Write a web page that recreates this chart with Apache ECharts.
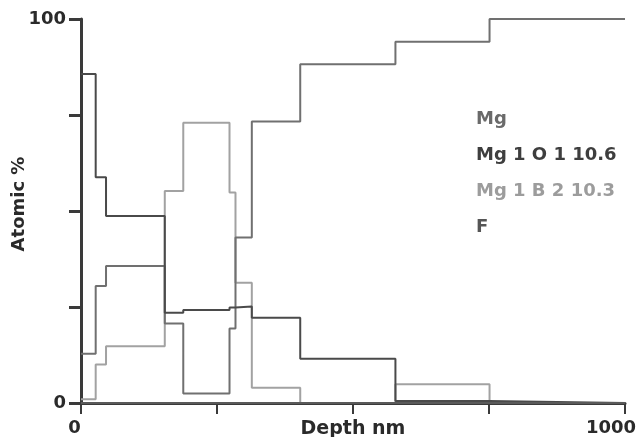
<!DOCTYPE html>
<html><head><meta charset="utf-8">
<script src="https://cdn.jsdelivr.net/npm/echarts@6/dist/echarts.min.js"></script>
<style>html,body{margin:0;padding:0;background:#fff}#c{width:638px;height:437px}</style>
</head><body><div id="c"></div>
<script>
// Depth boundaries (nm): each value holds from its boundary to the next one
const depthEdges = [0, 27, 46, 154, 188, 273, 284, 314, 403, 578, 751, 1000];
const seriesNames = ['Mg', 'Mg 1 O 1 10.6', 'Mg 1 B 2 10.3', 'F'];
const mgValues    = [12.8, 30.5, 35.7, 20.7, 2.5, 19.4, 43.1, 73.3, 88.2, 94.1, 100];
const mgOValues   = [85.7, 58.8, 48.7, 23.5, 24.2, 24.9, 25.1, 22.2, 11.5, 0.5, 0];
const mgBValues   = [1.0, 10.0, 14.8, 55.2, 73.0, 54.8, 31.3, 4.0, 0, 4.9, 0];
const fValues     = [0, 0, 0, 0, 0, 0, 0, 0, 0, 0, 0];
const xTickLabels = [0, 1000];
const yTickLabels = [0, 100];

const lineColors = ['#707070', '#4a4a4a', '#a2a2a2', '#5a5a5a'];
const textColors = ['#6a6a6a', '#3e3e3e', '#9c9c9c', '#555555'];
const FONT = 'DejaVu Sans';

function stepData(vals) {
  const d = vals.map((v, i) => [depthEdges[i], v]);
  d.push([depthEdges[depthEdges.length - 1], vals[vals.length - 1]]);
  return d;
}
const allValues = [mgValues, mgOValues, mgBValues, fValues];

const chart = echarts.init(document.getElementById('c'), null, {renderer: 'canvas'});
chart.setOption({
  animation: false,
  backgroundColor: '#fff',
  grid: {left: 81, right: 13, top: 19, bottom: 34, containLabel: false, outerBoundsMode: 'none'},
  legend: {
    orient: 'vertical', left: 466, top: 104, itemGap: 16,
    itemWidth: 0, itemHeight: 0, icon: 'rect', selectedMode: false,
    textStyle: {fontFamily: FONT, fontWeight: 'bold', fontSize: 18, lineHeight: 20},
    data: seriesNames.map((n, i) => ({name: n, itemStyle: {opacity: 0}, textStyle: {color: textColors[i]}}))
  },
  xAxis: {
    type: 'value', min: 0, max: 1000, interval: 250,
    name: 'Depth nm', nameLocation: 'middle', nameGap: 17, nameMoveOverlap: false,
    nameTextStyle: {fontFamily: FONT, fontWeight: 'bold', fontSize: 19, color: '#2a2a2a', verticalAlign: 'top'},
    axisLine: {show: true, lineStyle: {color: '#3a3a3a', width: 3}},
    axisTick: {show: true, inside: false, length: 11, lineStyle: {color: '#3a3a3a', width: 2}},
    splitLine: {show: false},
    axisLabel: {
      margin: 16, fontFamily: FONT, fontWeight: 'bold', fontSize: 18, color: '#2a2a2a',
      hideOverlap: false, showMinLabel: true, showMaxLabel: true,
      formatter: v => v === xTickLabels[0] ? '{a|' + v + '}' : (v === xTickLabels[1] ? '{m|' + v + '}' : ''),
      rich: {
        a: {fontFamily: FONT, fontWeight: 'bold', fontSize: 18, color: '#2a2a2a', padding: [0, 13, 0, 0]},
        m: {fontFamily: FONT, fontWeight: 'bold', fontSize: 18, color: '#2a2a2a', padding: [0, 28, 0, 0]}
      }
    }
  },
  yAxis: {
    type: 'value', min: 0, max: 100, interval: 25,
    name: 'Atomic %', nameLocation: 'middle', nameGap: 53, nameRotate: 90, nameMoveOverlap: false,
    nameTextStyle: {fontFamily: FONT, fontWeight: 'bold', fontSize: 18, color: '#2a2a2a', padding: [0, 0, 0, 14]},
    axisLine: {show: true, lineStyle: {color: '#3a3a3a', width: 3}},
    axisTick: {show: true, inside: false, length: 12, lineStyle: {color: '#3a3a3a', width: 3}},
    splitLine: {show: false},
    axisLabel: {
      margin: 15, fontFamily: FONT, fontWeight: 'bold', fontSize: 18, color: '#2a2a2a',
      formatter: v => yTickLabels.includes(v) ? String(v) : ''
    }
  },
  series: seriesNames.map((n, i) => ({
    name: n, type: 'line', step: 'end', symbol: 'none', showSymbol: false,
    data: stepData(allValues[i]),
    color: lineColors[i],
    lineStyle: {color: lineColors[i], width: 2},
    z: 3 + (i === 2 ? 0 : 1)
  }))
});
</script></body></html>
